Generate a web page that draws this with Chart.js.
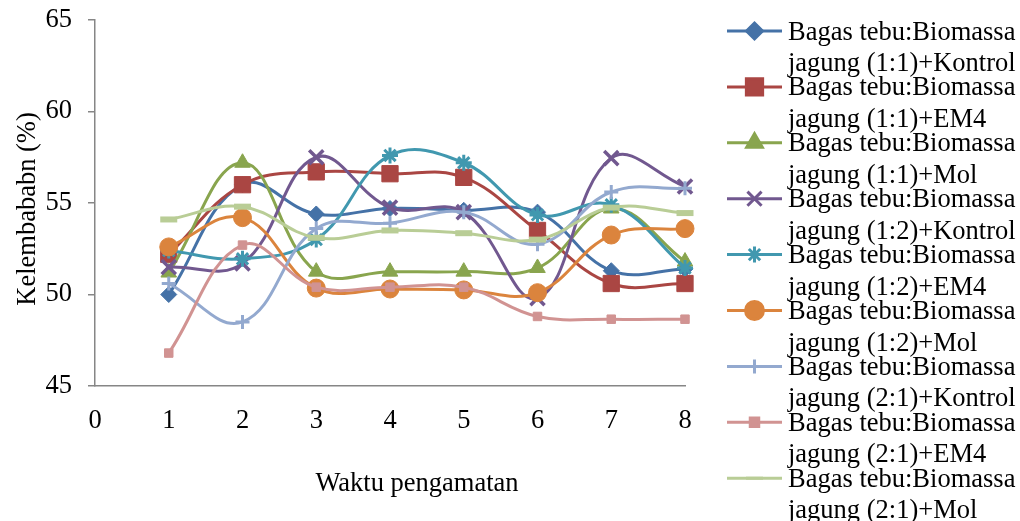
<!DOCTYPE html>
<html>
<head>
<meta charset="utf-8">
<script src="https://cdn.jsdelivr.net/npm/chart.js@4/dist/chart.umd.min.js"></script>
<style>
html,body{margin:0;padding:0;background:#fff;}
canvas{display:block;}
</style>
</head>
<body>
<canvas id="c" width="1020" height="521"></canvas>
<script>
// ---- Data ----
const waktu = [1, 2, 3, 4, 5, 6, 7, 8];
const xTicks = [0, 1, 2, 3, 4, 5, 6, 7, 8];
const yTicks = [45, 50, 55, 60, 65];

const seriesNames = [
  ["Bagas tebu:Biomassa", "jagung (1:1)+Kontrol"],
  ["Bagas tebu:Biomassa", "jagung (1:1)+EM4"],
  ["Bagas tebu:Biomassa", "jagung (1:1)+Mol"],
  ["Bagas tebu:Biomassa", "jagung (1:2)+Kontrol"],
  ["Bagas tebu:Biomassa", "jagung (1:2)+EM4"],
  ["Bagas tebu:Biomassa", "jagung (1:2)+Mol"],
  ["Bagas tebu:Biomassa", "jagung (2:1)+Kontrol"],
  ["Bagas tebu:Biomassa", "jagung (2:1)+EM4"],
  ["Bagas tebu:Biomassa", "jagung (2:1)+Mol"]
];

const k11_kontrol = [50.0, 56.0, 54.4, 54.7, 54.6, 54.5, 51.3, 51.4];
const k11_em4     = [52.2, 56.0, 56.7, 56.6, 56.4, 53.5, 50.6, 50.6];
const k11_mol     = [51.2, 57.2, 51.25, 51.25, 51.25, 51.45, 54.7, 51.8];
const k12_kontrol = [51.5, 51.7, 57.5, 54.75, 54.5, 49.8, 57.45, 55.9];
const k12_em4     = [52.4, 51.95, 53.0, 57.6, 57.2, 54.35, 54.9, 51.45];
const k12_mol     = [52.6, 54.2, 50.35, 50.3, 50.25, 50.1, 53.25, 53.6];
const k21_kontrol = [50.6, 48.5, 53.6, 53.9, 54.5, 52.75, 55.6, 55.8];
const k21_em4     = [46.8, 52.7, 50.4, 50.4, 50.4, 48.8, 48.65, 48.65];
const k21_mol     = [54.1, 54.8, 53.1, 53.5, 53.35, 53.0, 54.75, 54.45];

const seriesValues = [k11_kontrol, k11_em4, k11_mol, k12_kontrol, k12_em4, k12_mol, k21_kontrol, k21_em4, k21_mol];

// ---- Styles ----
const colors = ['#4572A7', '#AA4643', '#89A54E', '#71588F', '#4198AF', '#DB843D', '#93A9CF', '#D19392', '#B9CD96'];
const markers = [
  {style: 'rectRot', radius: 8, bw: 1},
  {style: 'rect', radius: 11.5, bw: 1},
  {style: 'triangle', radius: 9, bw: 1},
  {style: 'crossRot', radius: 10, bw: 3.5},
  {style: 'star', radius: 8, bw: 3},
  {style: 'circle', radius: 9, bw: 1},
  {style: 'cross', radius: 7, bw: 3},
  {style: 'rect', radius: 6, bw: 1},
  {style: 'line', radius: 8.5, bw: 6}
];

const FONT = "'Liberation Serif', 'Times New Roman', serif";
const FS = 26.5;

const datasets = seriesValues.map((vals, i) => ({
  label: seriesNames[i].join(' '),
  data: vals.map((v, j) => ({x: waktu[j], y: v})),
  borderColor: colors[i],
  backgroundColor: colors[i],
  borderWidth: 3,
  tension: 0.4,
  pointStyle: markers[i].style,
  pointRadius: markers[i].radius,
  pointBorderWidth: markers[i].bw,
  pointBackgroundColor: colors[i],
  pointBorderColor: colors[i],
  order: seriesValues.length - 1 - i,
  clip: false
}));

const AXIS_COLOR = '#868686';

const decorPlugin = {
  id: 'decor',
  afterDraw(chart) {
    const ctx = chart.ctx;
    ctx.save();
    ctx.fillStyle = '#000';
    ctx.font = FS + 'px ' + FONT;
    // y title
    ctx.save();
    ctx.translate(28, 209);
    ctx.rotate(-Math.PI / 2);
    ctx.textAlign = 'center';
    ctx.textBaseline = 'middle';
    ctx.fillText('Kelembababn (%)', 0, 0);
    ctx.restore();
    // x title
    ctx.textAlign = 'center';
    ctx.textBaseline = 'middle';
    ctx.fillText('Waktu pengamatan', 417, 484);
    // legend
    const lx0 = 727, lx1 = 782, tx = 788;
    const y0 = 31, step = 55.9;
    seriesNames.forEach((name, i) => {
      const y = y0 + step * i;
      ctx.strokeStyle = colors[i];
      ctx.lineWidth = 3;
      ctx.beginPath();
      ctx.moveTo(lx0, y);
      ctx.lineTo(lx1, y);
      ctx.stroke();
      ctx.fillStyle = colors[i];
      ctx.strokeStyle = colors[i];
      Chart.helpers.drawPoint(ctx, {
        pointStyle: markers[i].style,
        radius: markers[i].radius,
        rotation: 0,
        borderWidth: markers[i].bw
      }, (lx0 + lx1) / 2, y);
      ctx.fillStyle = '#000';
      ctx.textAlign = 'left';
      ctx.textBaseline = 'alphabetic';
      ctx.fillText(name[0], tx, y + 8.5);
      ctx.fillText(name[1], tx, y + 40);
    });
    ctx.restore();
  }
};

new Chart(document.getElementById('c'), {
  type: 'line',
  data: {datasets},
  options: {
    responsive: false,
    animation: false,
    events: [],
    layout: {padding: {top: 20, left: 0, right: 335, bottom: 85}},
    plugins: {legend: {display: false}, tooltip: {enabled: false}},
    scales: {
      x: {
        type: 'linear',
        min: 0, max: 8,
        afterFit(s) { s.height = 50; s.paddingLeft = 0; s.paddingRight = 0; },
        afterBuildTicks(s) { s.ticks = xTicks.map(v => ({value: v})); },
        grid: {display: true, drawOnChartArea: false, drawTicks: false},
        border: {display: true, color: AXIS_COLOR, width: 1.5},
        ticks: {color: '#000', font: {family: FONT, size: FS}, padding: 19, maxRotation: 0}
      },
      y: {
        min: 45, max: 65,
        afterFit(s) { s.width = 95; s.paddingTop = 0; s.paddingBottom = 0; },
        afterBuildTicks(s) { s.ticks = yTicks.map(v => ({value: v})); },
        grid: {display: true, drawOnChartArea: false, drawTicks: true, tickLength: 7, color: AXIS_COLOR, lineWidth: 1.5},
        border: {display: true, color: AXIS_COLOR, width: 1.5},
        ticks: {color: '#000', font: {family: FONT, size: FS}, padding: 16}
      }
    }
  },
  plugins: [decorPlugin]
});
</script>
</body>
</html>
